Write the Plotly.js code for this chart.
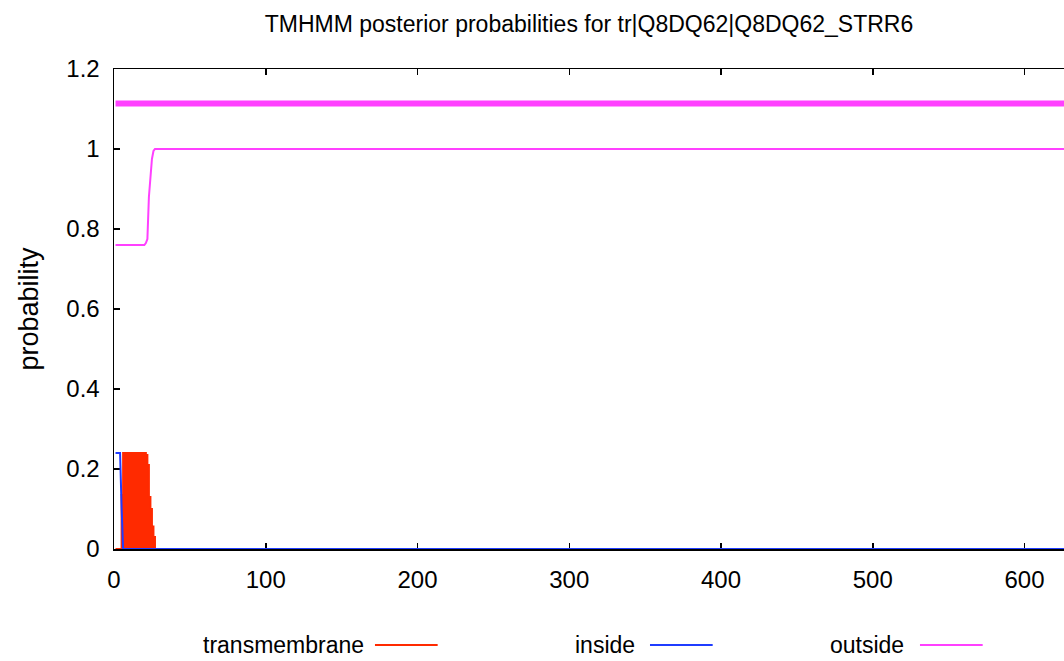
<!DOCTYPE html>
<html>
<head>
<meta charset="utf-8">
<script src="https://cdn.plot.ly/plotly-3.0.1.min.js"></script>
<style>html,body{margin:0;padding:0;background:#fff;overflow:hidden}</style>
</head>
<body>
<div id="chart" style="width:1064px;height:661px"></div>
<script>
// ---- data ----
const titleText = "TMHMM posterior probabilities for tr|Q8DQ62|Q8DQ62_STRR6";
const yAxisTitle = "probability";
const seriesNames = ["transmembrane", "inside", "outside"];

// transmembrane posterior (per residue, drawn as impulses)
const tmX = [1, 4, 5, 6, 20, 21, 22, 23, 24, 25, 26, 27, 626];
const tmY = [0, 0, 0.135, 0.24, 0.24, 0.235, 0.21, 0.13, 0.10, 0.056, 0.03, 0, 0];

// inside posterior
const insideX = [1, 4, 5, 6, 626];
const insideY = [0.24, 0.24, 0.105, 0, 0];

// outside posterior
const outsideX = [1, 20, 21, 22, 23, 24, 25, 26, 27, 626];
const outsideY = [0.76, 0.76, 0.765, 0.775, 0.88, 0.93, 0.975, 0.995, 1.0, 1.0];

// predicted topology bar (outside)
const topoX = [1, 626];
const topoY = [1.114, 1.114];

const xTicks = [0, 100, 200, 300, 400, 500, 600];
const xTickLabels = ["0", "100", "200", "300", "400", "500", "600"];
const yTicks = [0, 0.2, 0.4, 0.6, 0.8, 1, 1.2];
const yTickLabels = ["0", "0.2", "0.4", "0.6", "0.8", "1", "1.2"];

// ---- styling ----
const RED = "#ff2a00", BLUE = "#1f3cff", MAGENTA = "#ff40ff";
const FONT = "Liberation Sans, Arial, sans-serif";

const traces = [
  {x: tmX, y: tmY, name: seriesNames[0], type: "scatter", mode: "lines",
   line: {color: RED, width: 2, shape: "hv"}, fill: "tozeroy", fillcolor: RED},
  {x: insideX, y: insideY, name: seriesNames[1], type: "scatter", mode: "lines",
   line: {color: BLUE, width: 2}},
  {x: outsideX, y: outsideY, name: seriesNames[2], type: "scatter", mode: "lines",
   line: {color: MAGENTA, width: 2}},
  {x: topoX, y: topoY, name: seriesNames[2], type: "scatter", mode: "lines",
   line: {color: MAGENTA, width: 6}, showlegend: false}
];

// legend drawn gnuplot-style: text then line sample
const legendColors = [RED, BLUE, MAGENTA];
const legendTextRight = [0.2653, 0.5505, 0.8337];
const legendLineStart = [0.2747, 0.5642, 0.8484];
const legendLineLen = 0.066;
const legendY = -0.2;

const annotations = seriesNames.map((n, i) => ({
  text: n, xref: "paper", yref: "paper", x: legendTextRight[i], y: legendY,
  xanchor: "right", yanchor: "middle", showarrow: false,
  font: {family: FONT, size: 23, color: "#000"}
}));
const shapes = seriesNames.map((n, i) => ({
  type: "line", xref: "paper", yref: "paper",
  x0: legendLineStart[i], x1: legendLineStart[i] + legendLineLen,
  y0: legendY, y1: legendY, line: {color: legendColors[i], width: 2}
}));

const layout = {
  width: 1064, height: 661,
  margin: {l: 114, r: 0, t: 69, b: 112},
  paper_bgcolor: "#fff", plot_bgcolor: "#fff",
  showlegend: false,
  font: {family: FONT, size: 23, color: "#000"},
  title: {text: titleText, x: 0.5, xref: "paper", y: 1 - 24 / 661, yref: "container",
          yanchor: "middle", font: {family: FONT, size: 23, color: "#000"}},
  xaxis: {range: [0, 626], tickmode: "array", tickvals: xTicks, ticktext: xTickLabels,
          ticks: "inside", ticklen: 6, tickwidth: 1.5, tickcolor: "#000",
          showline: true, linecolor: "#000", linewidth: 1.5, mirror: "ticks",
          showgrid: false, zeroline: false, layer: "below traces",
          ticklabelstandoff: 9, tickfont: {family: FONT, size: 24, color: "#000"}},
  yaxis: {range: [0, 1.2], tickmode: "array", tickvals: yTicks, ticktext: yTickLabels,
          ticks: "inside", ticklen: 6, tickwidth: 1.5, tickcolor: "#000",
          showline: true, linecolor: "#000", linewidth: 1.5, mirror: false,
          showgrid: false, zeroline: false, layer: "below traces",
          ticklabelstandoff: 8, tickfont: {family: FONT, size: 24, color: "#000"},
          title: {text: yAxisTitle, standoff: 20, font: {family: FONT, size: 27, color: "#000"}}},
  annotations: annotations,
  shapes: shapes
};

Plotly.newPlot("chart", traces, layout, {displayModeBar: false, staticPlot: true});
</script>
</body>
</html>
